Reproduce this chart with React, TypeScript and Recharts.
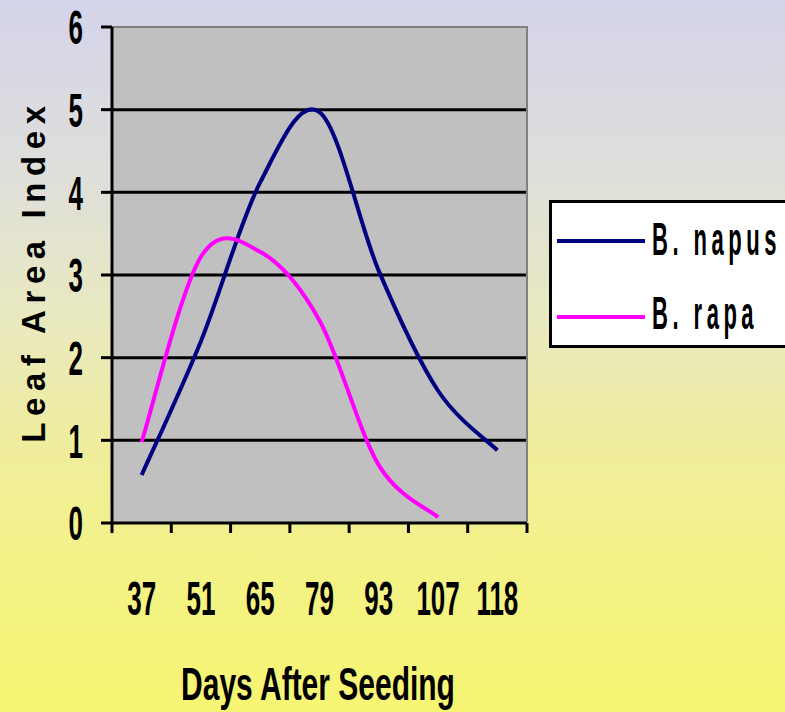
import { LineChart, Line, XAxis, YAxis, CartesianGrid, ReferenceLine } from "recharts";

// days after seeding (x categories) and leaf area index readings
const days = ["37", "51", "65", "79", "93", "107", "118"];
const napus = [0.58, 2.2, 4.12, 4.97, 3.05, 1.6, 0.88];
const rapa: (number | null)[] = [0.98, 3.22, 3.28, 2.45, 0.7, 0.07, null];
const yTicks = [0, 1, 2, 3, 4, 5, 6];
const gridLevels = [1, 2, 3, 4, 5];

const data = days.map((day, i) => ({ day, napus: napus[i], rapa: rapa[i] }));

const W = 785;
const H = 712;
const PLOT_LEFT = 112;
const PLOT_RIGHT = 527;
const PLOT_TOP = 27;
const PLOT_BOTTOM = 523;
const BAND = (PLOT_RIGHT - PLOT_LEFT) / days.length;
const FONT = "'Liberation Sans', Arial, sans-serif";
const NAVY = "#000080";
const PINK = "#ff00ff";

// Excel-like smoothed line (Catmull-Rom through the points)
function smoothCurve(ctx: any) {
  let pts: [number, number][] = [];
  return {
    areaStart() {},
    areaEnd() {},
    lineStart() {
      pts = [];
    },
    point(x: number, y: number) {
      pts.push([x, y]);
    },
    lineEnd() {
      if (!pts.length) return;
      ctx.moveTo(pts[0][0], pts[0][1]);
      for (let i = 0; i < pts.length - 1; i++) {
        const p0 = pts[i - 1] ?? pts[i];
        const p1 = pts[i];
        const p2 = pts[i + 1];
        const p3 = pts[i + 2] ?? p2;
        ctx.bezierCurveTo(
          p1[0] + (p2[0] - p0[0]) / 6,
          p1[1] + (p2[1] - p0[1]) / 6,
          p2[0] - (p3[0] - p1[0]) / 6,
          p2[1] - (p3[1] - p1[1]) / 6,
          p2[0],
          p2[1]
        );
      }
    },
  };
}

const XTick = ({ x, y, payload, index }: any) => (
  <g>
    <line x1={x - BAND / 2} x2={x - BAND / 2} y1={y - 10} y2={y} stroke="#000" strokeWidth={3} />
    {index === days.length - 1 && (
      <line x1={x + BAND / 2} x2={x + BAND / 2} y1={y - 10} y2={y} stroke="#000" strokeWidth={3} />
    )}
    <g transform={`translate(${x},${y + 82}) scale(1,1.88)`}>
      <text textAnchor="middle" fontFamily={FONT} fontWeight="bold" fontSize={26} fill="#000">
        {payload.value}
      </text>
    </g>
  </g>
);

const YTick = ({ x, y, payload }: any) => (
  <g transform={`translate(${x - 18},${y}) scale(1,1.88)`}>
    <text y={9.3} textAnchor="end" fontFamily={FONT} fontWeight="bold" fontSize={26} fill="#000">
      {payload.value}
    </text>
  </g>
);

export default function App() {
  return (
    <div
      style={{
        position: "absolute",
        left: 0,
        top: 0,
        width: W,
        height: H,
        overflow: "hidden",
        background:
          "linear-gradient(to bottom, #d4d4ea 0%, #dfdfda 25%, #e9e9c0 45%, #efed9e 62%, #f3f286 80%, #f7f572 100%)",
      }}
    >
      <LineChart
        width={W}
        height={H}
        data={data}
        margin={{ top: PLOT_TOP, right: W - PLOT_RIGHT, bottom: H - PLOT_BOTTOM - 30, left: 0 }}
      >
        <CartesianGrid horizontal={false} vertical={false} fill="#c0c0c0" />
        <XAxis
          dataKey="day"
          height={30}
          padding={{ left: BAND / 2, right: BAND / 2 }}
          axisLine={{ stroke: "#000", strokeWidth: 3 }}
          tickLine={false}
          tickSize={10}
          tickMargin={0}
          tick={<XTick />}
          interval={0}
        />
        <YAxis
          width={PLOT_LEFT}
          domain={[0, 6]}
          ticks={yTicks}
          interval={0}
          axisLine={{ stroke: "#000", strokeWidth: 3 }}
          tickLine={{ stroke: "#000", strokeWidth: 3 }}
          tickSize={11}
          tickMargin={0}
          tick={<YTick />}
        />
        {gridLevels.map((v) => (
          <ReferenceLine key={v} y={v} stroke="#000" strokeWidth={3} />
        ))}
        <ReferenceLine y={6} stroke="#808080" strokeWidth={2} />
        <Line
          dataKey="napus"
          type={smoothCurve as any}
          stroke={NAVY}
          strokeWidth={4}
          dot={false}
          isAnimationActive={false}
        />
        <Line
          dataKey="rapa"
          type={smoothCurve as any}
          stroke={PINK}
          strokeWidth={4}
          dot={false}
          isAnimationActive={false}
        />
      </LineChart>

      {/* right border of plot */}
      <div
        style={{
          position: "absolute",
          left: PLOT_RIGHT - 1,
          top: PLOT_TOP - 1,
          width: 2,
          height: PLOT_BOTTOM - PLOT_TOP,
          background: "#808080",
        }}
      />

      <svg
        width={W}
        height={H}
        style={{ position: "absolute", left: 0, top: 0, pointerEvents: "none" }}
      >
        <text
          transform="translate(45,271) rotate(-90)"
          textAnchor="middle"
          fontFamily={FONT}
          fontWeight="bold"
          fontSize={33}
          letterSpacing={6.6}
          fill="#000"
        >
          Leaf Area Index
        </text>
        <g transform="translate(318,700) scale(1,1.55)">
          <text textAnchor="middle" fontFamily={FONT} fontWeight="bold" fontSize={30} fill="#000">
            Days After Seeding
          </text>
        </g>

        <g transform="translate(549,200)">
          <rect x={1.5} y={1.5} width={260} height={145} fill="#fff" stroke="#000" strokeWidth={3} />
          <line x1={8} x2={96} y1={41} y2={41} stroke={NAVY} strokeWidth={4} />
          <g transform="translate(103,55) scale(1,2.1)">
            <text fontFamily={FONT} fontWeight="bold" fontSize={22} letterSpacing={4.5} fill="#000">
              B. napus
            </text>
          </g>
          <line x1={8} x2={96} y1={117} y2={117} stroke={PINK} strokeWidth={4} />
          <g transform="translate(103,129) scale(1,2.1)">
            <text fontFamily={FONT} fontWeight="bold" fontSize={22} letterSpacing={4.5} fill="#000">
              B. rapa
            </text>
          </g>
        </g>
      </svg>
    </div>
  );
}
